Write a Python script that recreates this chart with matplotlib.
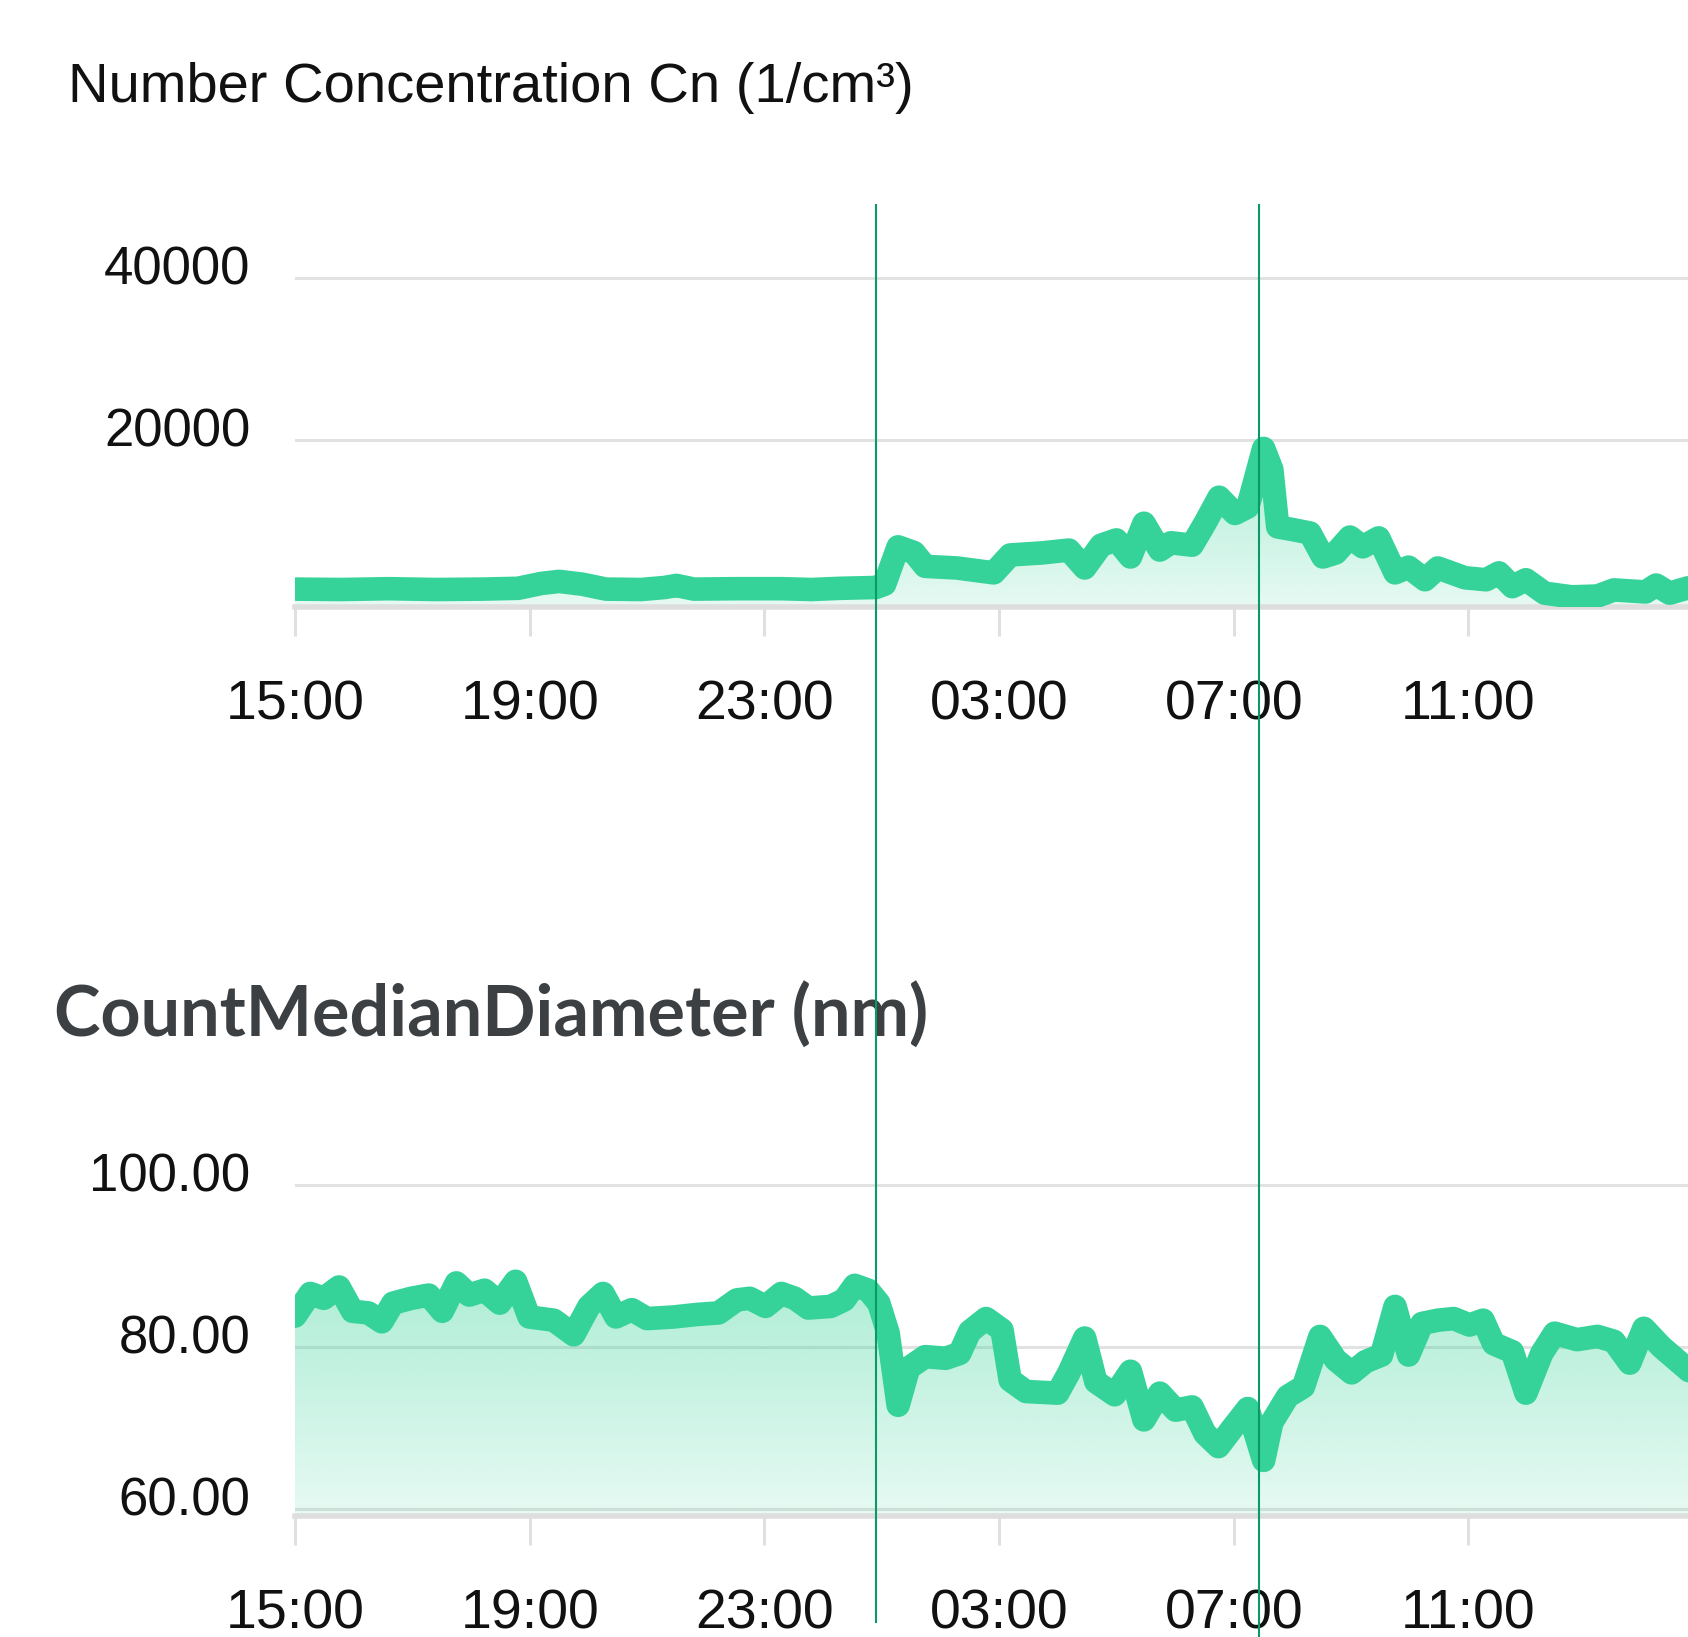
# Number concentration and count median diameter over one day (15:00 -> 15:00)

import numpy as np
import matplotlib
matplotlib.use('Agg')
import matplotlib.pyplot as plt
import matplotlib.transforms as mtransforms
from matplotlib import font_manager as fm
from matplotlib.colors import to_rgb
from matplotlib.lines import Line2D

# hours since 15:00
cn_hours = [0.0, 0.8, 1.6, 2.4, 3.2, 3.8, 4.2, 4.5, 4.9, 5.3, 5.9, 6.3, 6.5, 6.8, 7.5, 8.3, 8.8, 9.3,
            9.9, 10.05, 10.28, 10.55, 10.74, 11.28, 11.91, 12.19, 12.73, 13.19, 13.46, 13.74, 14.0,
            14.24, 14.47, 14.74, 14.93, 15.29, 15.51, 15.75, 16.02, 16.24, 16.51, 16.65, 16.75, 17.02,
            17.3, 17.52, 17.74, 17.98, 18.2, 18.47, 18.75, 18.98, 19.26, 19.48, 19.94, 20.3, 20.52,
            20.75, 20.98, 21.3, 21.76, 22.2, 22.48, 23.02, 23.2, 23.43, 23.74, 24.0]
cn_values = [1700, 1650, 1750, 1650, 1700, 1800, 2400, 2650, 2300, 1700, 1650, 1900, 2150, 1700, 1750,
             1750, 1650, 1800, 1900, 2300, 6900, 6200, 4500, 4300, 3700, 5900, 6150, 6500, 4300, 7100,
             7750, 5650, 9800, 6500, 7400, 7100, 9800, 13000, 11000, 11800, 19000, 16400, 9350, 9000,
             8600, 5650, 6150, 8100, 6900, 8000, 3700, 4400, 2850, 4300, 3100, 2850, 3700, 2000, 2850,
             1200, 750, 850, 1600, 1350, 2200, 1200, 1850, 1700]

cmd_hours = [0.0, 0.26, 0.49, 0.75, 0.98, 1.25, 1.48, 1.67, 1.98, 2.28, 2.51, 2.75, 2.97, 3.23, 3.49,
             3.76, 3.99, 4.41, 4.75, 5.01, 5.25, 5.47, 5.74, 6.0, 6.46, 6.84, 7.22, 7.53, 7.75, 8.02,
             8.29, 8.52, 8.75, 9.13, 9.36, 9.54, 9.77, 9.95, 10.11, 10.28, 10.46, 10.74, 11.09, 11.33,
             11.5, 11.78, 12.05, 12.19, 12.46, 13.0, 13.19, 13.46, 13.65, 13.97, 14.24, 14.47, 14.74,
             15.01, 15.29, 15.51, 15.74, 15.97, 16.24, 16.51, 16.65, 16.92, 17.19, 17.47, 17.74, 18.01,
             18.25, 18.52, 18.75, 18.98, 19.21, 19.48, 19.75, 20.02, 20.25, 20.43, 20.75, 20.98, 21.25,
             21.47, 21.85, 22.2, 22.48, 22.75, 22.99, 23.29, 23.74, 24.0]
cmd_values = [83.8, 86.6, 86.0, 87.4, 84.4, 84.2, 83.1, 85.4, 86.0, 86.4, 84.4, 87.9, 86.4, 87.0, 85.4,
              88.1, 83.7, 83.3, 81.5, 85.0, 86.6, 83.7, 84.6, 83.5, 83.7, 84.0, 84.2, 85.8, 86.0, 85.0,
              86.6, 86.0, 84.8, 85.0, 85.8, 87.6, 87.0, 85.4, 81.7, 72.8, 77.4, 78.8, 78.6, 79.2,
              81.9, 83.5, 82.1, 75.9, 74.5, 74.3, 76.8, 81.1, 75.7, 74.1, 77.0, 71.0, 74.3,
              72.2, 72.6, 69.3, 67.7, 69.9, 72.4, 66.0, 70.7, 73.9, 75.1, 81.3, 78.4, 76.8,
              78.2, 79.0, 85.0, 79.0, 82.9, 83.3, 83.5, 82.7, 83.3, 80.4, 79.4, 74.3, 79.2,
              81.7, 80.9, 81.3, 80.7, 78.0, 82.3, 80.0, 77.2, 75.5]

tick_hours = [0, 4, 8, 12, 16, 20]
tick_labels = ['15:00', '19:00', '23:00', '03:00', '07:00', '11:00']

cn_ticks = [20000, 40000]
cmd_ticks = [60, 80, 100]

# marked moments (about 00:54 and 07:26)
marker_hours = [9.9, 16.43]

green = '#35d399'
mark_green = '#0a9a68'
grid_grey = '#e2e2e2'


def has_font(name):
    try:
        fm.findfont(fm.FontProperties(family=name), fallback_to_default=False)
        return True
    except ValueError:
        return False


narrow = has_font('Liberation Sans Narrow')
xtick_font = dict(family='Liberation Sans Narrow', size=45) if narrow else dict(family='Liberation Sans', size=40)
if narrow:
    title2_font = dict(family='Liberation Sans Narrow', size=57, weight='bold')
else:
    title2_font = dict(family='Lato', size=50.5, weight='bold')

W, H = 1688, 1637
fig = plt.figure(figsize=(W / 100, H / 100), dpi=100)

x_right = (W - 295) / 58.67


def gradient_fill(ax, x, y, y0):
    poly = ax.fill_between(x, y, y0, facecolor='none', edgecolor='none')
    path = poly.get_paths()[0]
    n = 256
    rgba = np.zeros((n, 1, 4))
    rgba[..., :3] = to_rgb(green)
    rgba[:, 0, 3] = np.linspace(0.12, 0.40, n)
    im = ax.imshow(rgba, extent=[x[0], x[-1], y0, max(y)], origin='lower', aspect='auto',
                   zorder=2, interpolation='bilinear')
    im.set_clip_path(path, transform=ax.transData)


def style_axes(ax, y0, y1, yticks, ylabels):
    ax.set_xlim(0, x_right)
    ax.set_ylim(y0, y1)
    for s in ['top', 'right', 'left']:
        ax.spines[s].set_visible(False)
    ax.spines['bottom'].set_color('#dedede')
    ax.spines['bottom'].set_linewidth(4)
    ax.set_yticks(yticks)
    ax.set_yticklabels(ylabels, family='Liberation Sans', size=38, color='#111111')
    ax.tick_params(axis='y', length=0, pad=32)
    off = mtransforms.ScaledTranslation(0, 13 / 100, fig.dpi_scale_trans)
    for lab in ax.get_yticklabels():
        lab.set_transform(lab.get_transform() + off)
    ax.grid(axis='y', color=grid_grey, linewidth=2.2, zorder=1)
    ax.set_xticks(tick_hours)
    ax.set_xticklabels(tick_labels, color='#111111', **xtick_font)
    ax.tick_params(axis='x', direction='out', length=21, width=2.2, color='#e0e0e0', pad=31)


# top panel
ax1 = fig.add_axes([295 / W, (H - 607) / H, 1 - 295 / W, 370 / H])
ax1.set_axisbelow(True)
gradient_fill(ax1, cn_hours, cn_values, -500)
ax1.plot(cn_hours, cn_values, color=green, lw=17, solid_joinstyle='round', solid_capstyle='round', zorder=3)
style_axes(ax1, -500, 45000, cn_ticks, [str(v) for v in cn_ticks])

# bottom panel
ax2 = fig.add_axes([295 / W, (H - 1516) / H, 1 - 295 / W, 396 / H])
ax2.set_axisbelow(True)
gradient_fill(ax2, cmd_hours, cmd_values, 59.14)
ax2.plot(cmd_hours, cmd_values, color=green, lw=17, solid_joinstyle='round', solid_capstyle='round', zorder=3)
style_axes(ax2, 59.14, 108, cmd_ticks, ['%.2f' % v for v in cmd_ticks])

fig.text(68 / W, 1 - 102 / H, 'Number Concentration Cn (1/cm³)', family='Liberation Sans', size=40.4,
         color='#111111', ha='left', va='baseline')
fig.text(54 / W, 1 - 1036 / H, 'CountMedianDiameter (nm)', color='#3c4043', ha='left', va='baseline',
         **title2_font)

# vertical marker lines across both panels
blend = mtransforms.blended_transform_factory(ax1.transData, fig.transFigure)
ends = [1 - 1622 / H, 0.0]
for h, yb in zip(marker_hours, ends):
    fig.add_artist(Line2D([h, h], [1 - 205 / H, yb], transform=blend, color=mark_green, lw=1.5, zorder=10))

fig.savefig('out.png', dpi=100, facecolor='white')
